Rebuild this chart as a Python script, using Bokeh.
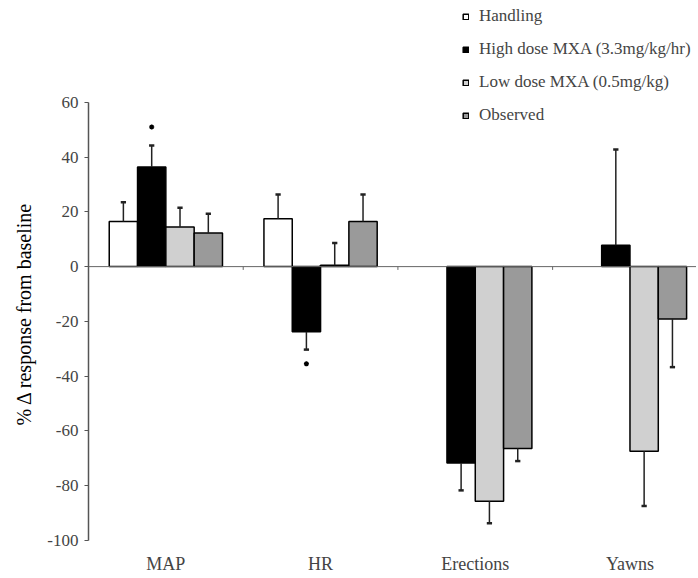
from bokeh.plotting import figure
from bokeh.models import Range1d, FixedTicker, Span, Legend, LegendItem, LinearAxis, Title
from bokeh.embed import file_html
from bokeh.resources import INLINE

# ---- data ----
categories = ["MAP", "HR", "Erections", "Yawns"]
series = ["Handling", "High dose MXA (3.3mg/kg/hr)", "Low dose MXA (0.5mg/kg)", "Observed"]
handling = [16.5, 17.5, None, None]
high_dose = [36.4, -23.8, -71.7, 7.8]
low_dose = [14.5, 0.5, -85.7, -67.4]
observed = [12.3, 16.5, -66.4, -19.1]
handling_err = [7.0, 8.8, None, None]
high_dose_err = [7.8, 6.5, 10.0, 35.0]
low_dose_err = [7.0, 8.1, 8.0, 20.0]
observed_err = [7.0, 9.8, 4.6, 17.6]
sig_category = ["MAP", "HR"]
sig_series = [1, 1]
sig_y = [51.0, -35.5]
y_ticks = [-100, -80, -60, -40, -20, 0, 20, 40, 60]

values = [handling, high_dose, low_dose, observed]
errors = [handling_err, high_dose_err, low_dose_err, observed_err]
fills = ["#ffffff", "#000000", "#d0d0d0", "#9a9a9a"]

FONT = "Liberation Serif"
W, H = 696, 576
p = figure(width=W, height=H, output_backend="svg", toolbar_location=None,
           x_range=Range1d(0, 3.93), y_range=Range1d(-100, 97.17),
           min_border_left=88, min_border_right=0, min_border_top=0, min_border_bottom=35,
           x_axis_type=None, y_axis_type=None)
p.outline_line_color = None
p.xgrid.visible = False
p.ygrid.visible = False

# zero line
p.add_layout(Span(location=0, dimension="width", line_color="#666666", line_width=1))

# y axis
yax = LinearAxis(ticker=FixedTicker(ticks=y_ticks), bounds=(min(y_ticks), max(y_ticks)),
                 major_label_overrides={t: str(t) for t in y_ticks})
yax.major_label_text_font = FONT
yax.major_label_text_font_size = "17px"
yax.major_label_standoff = 6
yax.major_tick_out = 4
yax.major_tick_in = 0
yax.minor_tick_out = 0
yax.minor_tick_in = 0
yax.axis_line_color = "#555555"
yax.axis_line_width = 1.5
yax.major_tick_line_color = "#555555"
yax.major_tick_line_width = 1.2
p.add_layout(yax, "left")

# y-axis title, anchored at its lower end so it sits beside the -100..60 span
ylabel = Title(text="% \u0394  response from baseline", align="left", offset=115,
               standoff=20, text_font=FONT, text_font_size="20px",
               text_font_style="normal", text_color="#000000")
p.add_layout(ylabel, "left")

# x axis (category labels only)
centers = [i + 0.5 for i in range(len(categories))]
xax = LinearAxis(ticker=FixedTicker(ticks=centers),
                 major_label_overrides={c: name for c, name in zip(centers, categories)})
xax.axis_line_color = None
xax.major_tick_line_color = None
xax.minor_tick_line_color = None
xax.major_tick_out = 0
xax.major_tick_in = 0
xax.minor_tick_out = 0
xax.minor_tick_in = 0
xax.major_label_text_font = FONT
xax.major_label_text_font_size = "18px"
xax.major_label_standoff = 13
p.add_layout(xax, "below")

# category separator ticks on zero line
seps = list(range(1, len(categories)))
p.segment(x0=seps, y0=[0] * len(seps), x1=seps, y1=[-1.2] * len(seps),
          line_color="#666666", line_width=1)

bw = 0.183
offsets = [-1.5 * bw, -0.5 * bw, 0.5 * bw, 1.5 * bw]
cap = 0.017
renderers = []
for s, (vals, errs, fc, off) in enumerate(zip(values, errors, fills, offsets)):
    xs = [c + off for c, v in zip(centers, vals) if v is not None]
    vs = [v for v in vals if v is not None]
    es = [e for e in errs if e is not None]
    r = p.vbar(x=xs, top=vs, bottom=0, width=bw, fill_color=fc,
               line_color="#000000", line_width=1.5)
    renderers.append(r)
    ends = [v + (e if v >= 0 else -e) for v, e in zip(vs, es)]
    p.segment(x0=xs, y0=vs, x1=xs, y1=ends, line_color="#222222", line_width=1.5)
    p.segment(x0=[x - cap for x in xs], y0=ends, x1=[x + cap for x in xs], y1=ends,
              line_color="#222222", line_width=2.5)

# significance markers
sx = [centers[categories.index(c)] + offsets[s] for c, s in zip(sig_category, sig_series)]
p.scatter(x=sx, y=sig_y, marker="asterisk", size=5, line_color="#000000", line_width=1.5)

legend = Legend(items=[LegendItem(label=n, renderers=[r]) for n, r in zip(series, renderers)],
                location=(374, 415), orientation="vertical")
legend.glyph_width = 7
legend.glyph_height = 7
legend.label_height = 20
legend.spacing = 13
legend.padding = 0
legend.margin = 0
legend.label_standoff = 10
legend.label_text_font = FONT
legend.label_text_font_size = "17px"
legend.border_line_color = None
legend.background_fill_alpha = 0
p.add_layout(legend)

open("out.html", "w").write(file_html(p, INLINE))
